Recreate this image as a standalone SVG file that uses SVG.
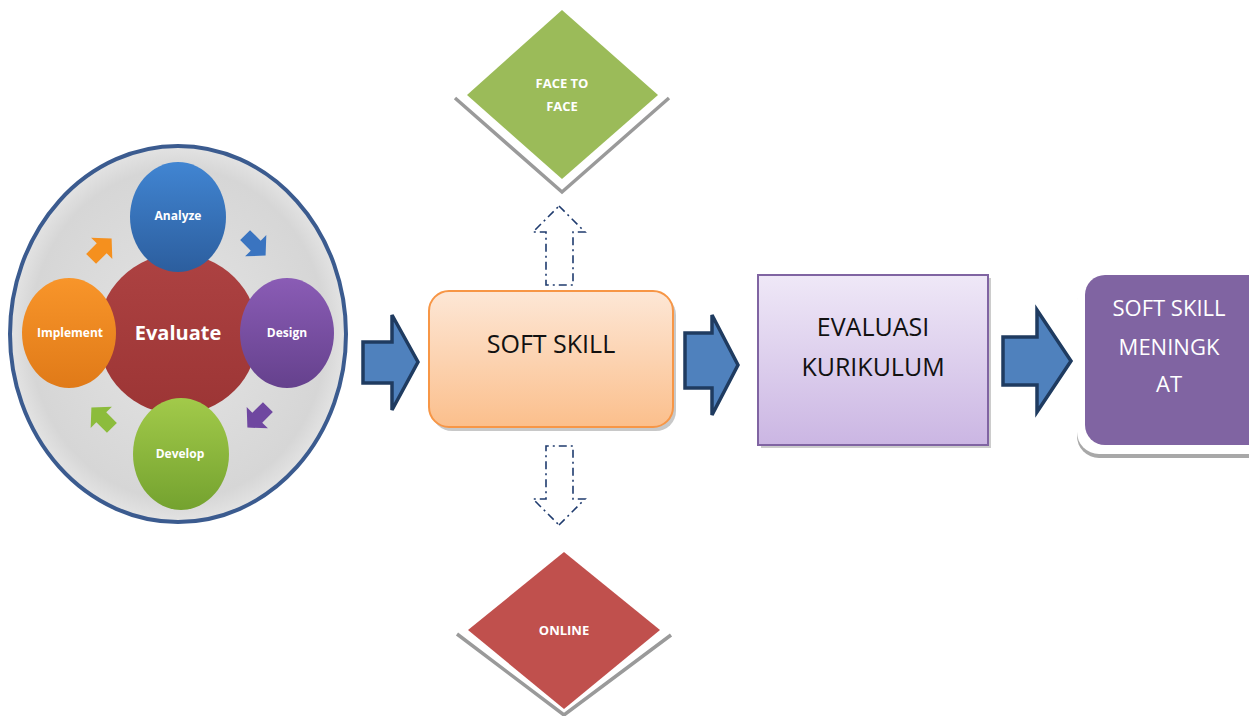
<svg xmlns="http://www.w3.org/2000/svg" width="1249" height="716" viewBox="0 0 1249 716">
  <defs>
    <radialGradient id="gBg" cx="50%" cy="50%" r="55%">
      <stop offset="0" stop-color="#e4e4e4"/>
      <stop offset="0.8" stop-color="#d6d6d6"/>
      <stop offset="1" stop-color="#eeeeee"/>
    </radialGradient>
    <linearGradient id="gRed" x1="0" y1="0" x2="0" y2="1">
      <stop offset="0" stop-color="#ad4242"/>
      <stop offset="1" stop-color="#9c3535"/>
    </linearGradient>
    <linearGradient id="gBlue" x1="0" y1="0" x2="0" y2="1">
      <stop offset="0" stop-color="#4185d2"/>
      <stop offset="1" stop-color="#2c5e9e"/>
    </linearGradient>
    <linearGradient id="gPurple" x1="0" y1="0" x2="0" y2="1">
      <stop offset="0" stop-color="#8a5cb5"/>
      <stop offset="1" stop-color="#65418d"/>
    </linearGradient>
    <linearGradient id="gGreen" x1="0" y1="0" x2="0" y2="1">
      <stop offset="0" stop-color="#a2ca4a"/>
      <stop offset="1" stop-color="#74a22f"/>
    </linearGradient>
    <linearGradient id="gOrange" x1="0" y1="0" x2="0" y2="1">
      <stop offset="0" stop-color="#f8952a"/>
      <stop offset="1" stop-color="#e07a18"/>
    </linearGradient>
    <linearGradient id="gPeach" x1="0" y1="0" x2="0" y2="1">
      <stop offset="0" stop-color="#fde7d6"/>
      <stop offset="1" stop-color="#fbbf8c"/>
    </linearGradient>
    <linearGradient id="gLilac" x1="0" y1="0" x2="0" y2="1">
      <stop offset="0" stop-color="#efe8f7"/>
      <stop offset="1" stop-color="#cbb6e3"/>
    </linearGradient>
    <!-- small cycle arrow, pointing right, centred on the origin -->
    <path id="miniArrow" d="M-14,-7 L1,-7 L1,-15 L15,0 L1,15 L1,7 L-14,7 Z"/>
    <!-- dash-dot hollow arrow pointing up, centred on x=0, tip at y=0 -->
    <path id="hollowUp" d="M0,0 L26,26 L14,26 L14,79 L-13,79 L-13,26 L-26,26 Z"/>
  </defs>
  <style>
    .cyc { font-family: "Open Sans", "Liberation Sans", sans-serif; font-weight: bold; fill: #ffffff; text-anchor: middle; }
    .dia { font-family: "Open Sans", "Liberation Sans", sans-serif; font-weight: bold; fill: #ffffff; font-size: 13px; text-anchor: middle; }
    .lbl { font-family: "Open Sans", "Liberation Sans", sans-serif; font-size: 25px; text-anchor: middle; }
    .lbl.sm { font-size: 22px; }
    .vshadow { fill: none; stroke: #9a9a9a; stroke-width: 3.5; }
    .block { fill: #4f81bd; stroke: #1f3b60; stroke-width: 3.5; stroke-linejoin: miter; }
    .hollow { fill: none; stroke: #1f3b6e; stroke-width: 1.6; stroke-dasharray: 8 4 2 4; }
  </style>

  <!-- ADDIE cycle -->
  <g id="addie">
    <ellipse cx="178" cy="334" rx="168" ry="188" fill="url(#gBg)" stroke="#3b5b8f" stroke-width="4"/>
    <circle cx="178" cy="334" r="80" fill="url(#gRed)"/>
    <g id="cycle-arrows">
      <use href="#miniArrow" transform="translate(101,249) rotate(-45)" fill="#f5901e"/>
      <use href="#miniArrow" transform="translate(255,245) rotate(45)" fill="#3a74c0"/>
      <use href="#miniArrow" transform="translate(258,417) rotate(135)" fill="#6f47a0"/>
      <use href="#miniArrow" transform="translate(102,418) rotate(-135)" fill="#8cbc3c"/>
    </g>
    <g id="analyze">
      <ellipse cx="178" cy="217" rx="48" ry="55" fill="url(#gBlue)"/>
      <text class="cyc" x="178" y="220" font-size="12">Analyze</text>
    </g>
    <g id="design">
      <ellipse cx="287" cy="333" rx="47" ry="55" fill="url(#gPurple)"/>
      <text class="cyc" x="287" y="337" font-size="12">Design</text>
    </g>
    <g id="develop">
      <ellipse cx="181" cy="454" rx="48" ry="56" fill="url(#gGreen)"/>
      <text class="cyc" x="180" y="458" font-size="12">Develop</text>
    </g>
    <g id="implement">
      <ellipse cx="69" cy="333" rx="47" ry="55" fill="url(#gOrange)"/>
      <text class="cyc" x="70" y="337" font-size="12">Implement</text>
    </g>
    <text class="cyc" x="178" y="340" font-size="20">Evaluate</text>
  </g>

  <!-- FACE TO FACE -->
  <g id="face-to-face">
    <polyline class="vshadow" points="455,98 562,192 669,98"/>
    <polygon points="562,10 658,95 562,179 467,95" fill="#9bbb59"/>
    <text class="dia" x="562" y="88">FACE TO</text>
    <text class="dia" x="562" y="111">FACE</text>
  </g>

  <!-- ONLINE -->
  <g id="online">
    <polyline class="vshadow" points="457,634 564,715 671,635"/>
    <polygon points="564,552 660,630 564,709 468,630" fill="#c0504d"/>
    <text class="dia" x="564" y="635">ONLINE</text>
  </g>

  <!-- SOFT SKILL -->
  <g id="soft-skill">
    <rect x="432" y="295" width="244" height="136" rx="20" fill="#9a9a9a" opacity="0.55"/>
    <rect x="429" y="291" width="244" height="136" rx="20" fill="url(#gPeach)" stroke="#f79646" stroke-width="2"/>
    <text class="lbl" x="551" y="353" fill="#111111">SOFT SKILL</text>
  </g>

  <!-- EVALUASI KURIKULUM -->
  <g id="evaluasi">
    <rect x="761" y="278" width="230" height="170" fill="#9a9a9a" opacity="0.5"/>
    <rect x="758" y="275" width="230" height="170" fill="url(#gLilac)" stroke="#8064a2" stroke-width="2"/>
    <text class="lbl" x="873" y="336" fill="#111111">EVALUASI</text>
    <text class="lbl" x="873" y="376" fill="#111111">KURIKULUM</text>
  </g>

  <!-- SOFT SKILL MENINGKAT -->
  <g id="meningkat">
    <rect x="1077" y="282" width="200" height="176" rx="22" fill="#a8a8a8"/>
    <rect x="1077" y="278" width="196" height="176" rx="22" fill="#ffffff"/>
    <rect x="1085" y="275" width="190" height="170" rx="20" fill="#8064a2"/>
    <text class="lbl sm" x="1169" y="316" fill="#ffffff">SOFT SKILL</text>
    <text class="lbl sm" x="1169" y="355" fill="#ffffff">MENINGK</text>
    <text class="lbl sm" x="1169" y="392" fill="#ffffff">AT</text>
  </g>

  <!-- connectors -->
  <g id="connectors">
    <polygon class="block" points="363,342 392,342 392,315 418,362 392,410 392,383 363,383"/>
    <polygon class="block" points="685,333 712,333 712,315 738,365 712,415 712,388 685,388"/>
    <polygon class="block" points="1003,337 1037,337 1037,310 1071,361 1037,412 1037,385 1003,385"/>
    <use class="hollow" href="#hollowUp" transform="translate(559,206)"/>
    <use class="hollow" href="#hollowUp" transform="translate(559,525) scale(1,-1)"/>
  </g>
</svg>
